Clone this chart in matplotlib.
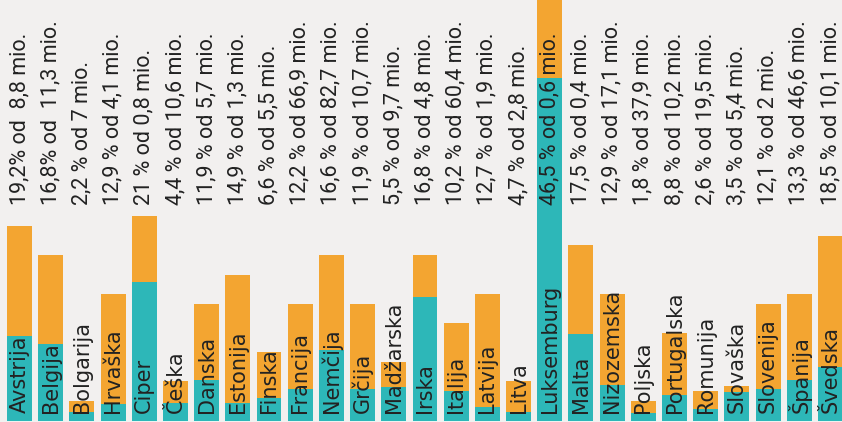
import matplotlib.pyplot as plt
import numpy as np

countries = ['Avstrija', 'Belgija', 'Bolgarija', 'Hrvaška', 'Ciper', 'Češka', 'Danska',
             'Estonija', 'Finska', 'Francija', 'Nemčija', 'Grčija', 'Madžarska', 'Irska',
             'Italija', 'Latvija', 'Litva', 'Luksemburg', 'Malta', 'Nizozemska', 'Poljska',
             'Portugalska', 'Romunija', 'Slovaška', 'Slovenija', 'Španija', 'Švedska']
# bar heights as drawn (roughly the percentage, in steps)
total = [19.2, 16.4, 2.0, 12.5, 20.2, 3.9, 11.5, 14.4, 6.8, 11.5, 16.4, 11.5, 5.8, 16.4,
         9.7, 12.5, 3.9, 46.5, 17.3, 12.5, 2.0, 8.7, 3.0, 3.4, 11.5, 12.5, 18.2]
teal = [8.4, 7.6, 0.9, 1.7, 13.7, 1.8, 4.0, 1.8, 2.3, 3.2, 7.0, 3.2, 3.3, 12.2,
        3.0, 1.4, 0.9, 33.8, 8.6, 3.5, 0.8, 2.6, 1.2, 2.9, 3.2, 4.0, 5.3]
labels = ['19,2% od  8,8 mio.', '16,8% od  11,3 mio.', '2,2 % od 7 mio.', '12,9 % od 4,1 mio.',
          '21 % od 0,8 mio.', '4,4 % od 10,6 mio.', '11,9 % od 5,7 mio.', '14,9 % od 1,3 mio.',
          '6,6 % od 5,5 mio.', '12,2 % od 66,9 mio.', '16,6 % od 82,7 mio.', '11,9 % od 10,7 mio.',
          '5,5 % od 9,7 mio.', '16,8 % od 4,8 mio.', '10,2 % od 60,4 mio.', '12,7 % od 1,9 mio.',
          '4,7 % od 2,8 mio.', '46,5 % od 0,6 mio.', '17,5 % od 0,4 mio.', '12,9 % od 17,1 mio.',
          '1,8 % od 37,9 mio.', '8,8 % od 10,2 mio.', '2,6 % od 19,5 mio.', '3,5 % od 5,4 mio.',
          '12,1 % od 2 mio.', '13,3 % od 46,6 mio.', '18,5 % od 10,1 mio.']

orange = '#F3A531'
teal_c = '#2DB7B8'
bg = '#F2F0EF'

x = np.arange(len(countries))

fig = plt.figure(figsize=(8.42, 4.22), dpi=100)
fig.patch.set_facecolor(bg)
ax = fig.add_axes([0, 0, 1, 1])
ax.set_facecolor(bg)

ax.bar(x, total, width=0.8, color=orange)
ax.bar(x, teal, width=0.8, color=teal_c)

for i in range(len(x)):
    ax.text(x[i], 21.3, labels[i], rotation=90, ha='center', va='bottom',
            fontsize=15.5, family='Roboto', color='#222222')
    ax.text(x[i], 0.75, countries[i], rotation=90, ha='center', va='bottom',
            fontsize=15, family='DejaVu Sans', color='#222222')

ax.set_xlim(-0.625, 26.37)
ax.set_ylim(-0.1, 41.48)
ax.axis('off')

fig.savefig('out.png', dpi=100, facecolor=bg)
